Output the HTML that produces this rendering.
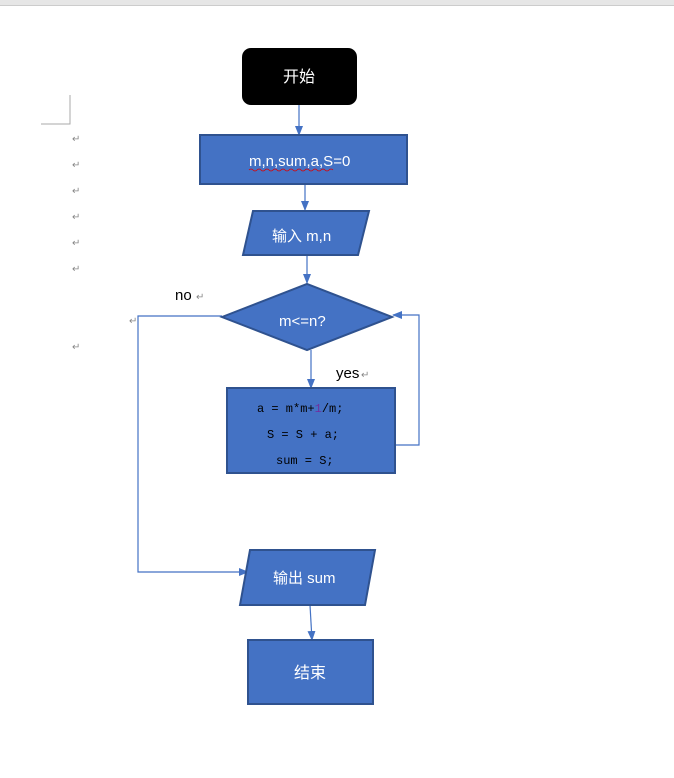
<!DOCTYPE html>
<html><head><meta charset="utf-8"><style>
html,body{margin:0;padding:0;background:#fff;width:674px;height:778px;overflow:hidden}
text{font-family:"Liberation Sans","Noto Sans CJK SC",sans-serif}
.m{font-family:"Liberation Mono",monospace;font-size:12px;fill:#000}
.p{fill:#888;font-size:10px}
</style></head><body>
<svg width="674" height="778" xmlns="http://www.w3.org/2000/svg">
<defs><marker id="a" markerWidth="10" markerHeight="8" refX="9" refY="4" orient="auto" markerUnits="userSpaceOnUse"><path d="M0,0 L10,4 L0,8z" fill="#4472c4"/></marker></defs>
<rect x="0" y="0" width="674" height="5" fill="#e6e6e6"/>
<line x1="0" y1="5.5" x2="674" y2="5.5" stroke="#ccc"/>
<path d="M70,95 V124 H41" fill="none" stroke="#aaa"/>
<g class="p"><text x="72" y="142">↵</text><text x="72" y="168">↵</text><text x="72" y="194">↵</text><text x="72" y="220">↵</text><text x="72" y="246">↵</text><text x="72" y="272">↵</text><text x="72" y="350">↵</text><text x="129" y="324">↵</text></g>
<text x="175" y="300" font-size="15">no</text><text x="196" y="300" class="p">↵</text>
<text x="336" y="378" font-size="15">yes</text><text x="361" y="378" class="p">↵</text>
<g stroke="#4472c4" stroke-width="1.2" fill="none">
<line x1="299" y1="105" x2="299" y2="135" marker-end="url(#a)"/>
<line x1="305" y1="184" x2="305" y2="210" marker-end="url(#a)"/>
<line x1="307" y1="255" x2="307" y2="283" marker-end="url(#a)"/>
<line x1="311" y1="350" x2="311" y2="388" marker-end="url(#a)"/>
<polyline points="395,445 419,445 419,315 393,315" marker-end="url(#a)"/>
<polyline points="222,316 138,316 138,572 248,572" marker-end="url(#a)"/>
<line x1="310" y1="605" x2="312" y2="640" marker-end="url(#a)"/>
</g>
<rect x="242" y="48" width="115" height="57" rx="9" fill="#000"/>
<text x="283" y="82" fill="#fff" font-size="16">开始</text>
<g fill="#4472c4" stroke="#2f528f" stroke-width="2">
<rect x="200" y="135" width="207" height="49"/>
<polygon points="253,211 369,211 358,255 243,255"/>
<polygon points="222,317 307,284 392,317 307,350"/>
<rect x="227" y="388" width="168" height="85"/>
<polygon points="250,550 375,550 365,605 240,605"/>
<rect x="248" y="640" width="125" height="64"/>
</g>
<text x="249" y="166" fill="#fff" font-size="15">m,n,sum,a,S=0</text>
<path d="M249,170 q2,-2 4,0 t4,0 t4,0 t4,0 t4,0 t4,0 t4,0 t4,0 t4,0 t4,0 t4,0 t4,0 t4,0 t4,0 t4,0 t4,0 t4,0 t4,0 t4,0 t4,0 t4,0" stroke="#d00" fill="none" stroke-width="0.8"/>
<text x="272" y="241" fill="#fff" font-size="15">输入 m,n</text>
<text x="279" y="326" fill="#fff" font-size="15">m&lt;=n?</text>
<text x="257" y="412" class="m">a = m*m+<tspan fill="#7030a0">1</tspan>/m;</text>
<text x="267" y="438" class="m">S = S + a;</text>
<text x="276" y="464" class="m">sum = S;</text>
<text x="273" y="583" fill="#fff" font-size="15">输出 sum</text>
<text x="294" y="678" fill="#fff" font-size="16">结束</text>
</svg>
</body></html>
